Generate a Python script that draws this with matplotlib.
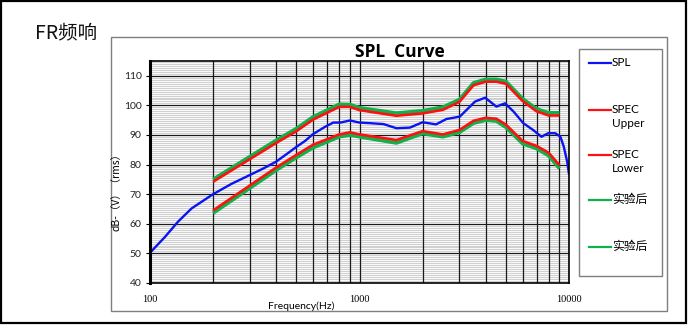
import matplotlib
matplotlib.use("Agg")
import matplotlib.pyplot as plt
from matplotlib.ticker import FixedLocator, MultipleLocator, NullFormatter
from matplotlib.patches import Rectangle

plt.rcParams['font.family'] = ['Lato', 'Noto Sans CJK SC', 'DejaVu Sans']

# ---- data ----
spl_freq = [100, 118, 136, 158, 200, 245, 300, 350, 400, 458, 500, 550, 600, 686, 750,
            810, 900, 1000, 1120, 1300, 1500, 1740, 2000, 2320, 2600, 3010, 3560, 3980,
            4500, 4950, 5440, 6050, 6740, 7390, 7950, 8600, 9100, 9440, 9800, 9990]
spl_db = [50.2, 55.6, 60.7, 65.2, 70.0, 73.5, 76.5, 78.8, 81.0, 84.0, 86.0, 88.0, 90.3, 92.8, 94.2,
          94.2, 94.9, 94.2, 94.0, 93.7, 92.3, 92.5, 94.3, 93.6, 95.4, 96.2, 101.3, 102.6,
          99.6, 100.7, 97.9, 94.0, 91.7, 89.4, 90.6, 90.6, 89.4, 86.1, 81.0, 77.0]

spec_freq = [200, 400, 500, 600, 800, 900, 1000, 1500, 2000, 2500, 3000, 3500, 4000,
             4500, 5000, 6000, 7000, 8000, 9000]
upper_db = [74.2, 87.3, 91.3, 95.2, 99.5, 99.5, 98.4, 96.5, 97.3, 98.5, 101.2, 106.8, 108.0,
            108.0, 107.3, 101.5, 98.0, 96.6, 96.6]
lower_db = [64.5, 79.0, 83.3, 86.7, 90.2, 90.9, 90.2, 88.3, 91.3, 90.2, 91.7, 94.8, 95.8,
            95.5, 93.5, 88.0, 86.3, 84.0, 79.8]
after_upper_db = [75.0, 88.2, 92.2, 96.1, 100.4, 100.3, 99.2, 97.4, 98.2, 99.4, 102.0, 107.6, 108.8,
                  108.8, 108.1, 102.3, 98.8, 97.5, 97.5]
after_lower_db = [63.6, 78.1, 82.4, 85.7, 89.4, 90.0, 89.4, 87.3, 90.5, 89.4, 90.9, 94.0, 95.0,
                  94.7, 92.6, 87.1, 85.4, 83.0, 78.7]

legend_labels = ['SPL', 'SPEC\nUpper', 'SPEC\nLower', '实验后', '实验后']
x_ticks = [100, 1000, 10000]
y_ticks = [40, 50, 60, 70, 80, 90, 100, 110]

BLUE = '#0a14f0'
RED = '#ff1010'
GREEN = '#12b04a'

W, H = 688, 325
fig = plt.figure(figsize=(W / 100, H / 100), dpi=100)
fig.patch.set_facecolor('white')

# overlay in pixel coordinates
ov = fig.add_axes([0, 0, 1, 1], zorder=0)
ov.set_xlim(0, W)
ov.set_ylim(H, 0)
ov.axis('off')
ov.add_patch(Rectangle((1, 1), W - 3, H - 3, fill=False, ec='black', lw=1.6))
ov.add_patch(Rectangle((111, 37), 556, 274, fill=False, ec='#7f7f7f', lw=1.0))
ov.text(35, 33, 'FR频响', fontsize=14, va='center', ha='left',
        family=['Noto Sans CJK SC', 'DejaVu Sans'], color='#111111')

# main axes
l, r, t, b = 150, 569, 61, 283
ax = fig.add_axes([l / W, (H - b) / H, (r - l) / W, (b - t) / H], zorder=2)
ax.set_xscale('log')
ax.set_xlim(100, 10000)
ax.set_ylim(40, 115)

ax.set_xticks(x_ticks)
ax.set_xticklabels([str(v) for v in x_ticks], family=['Liberation Serif'], fontsize=7.5)
ax.xaxis.set_minor_locator(FixedLocator([m * d for d in (100, 1000) for m in range(2, 10)]))
ax.xaxis.set_minor_formatter(NullFormatter())
ax.set_yticks(y_ticks)
ax.set_yticklabels([str(v) for v in y_ticks], fontsize=7.5, color='#222222')
ax.yaxis.set_minor_locator(MultipleLocator(10 / 15))

ax.grid(which='major', axis='both', color='#1a1a1a', lw=0.9)
ax.grid(which='minor', axis='x', color='#1a1a1a', lw=0.9)
ax.grid(which='minor', axis='y', color='#d0d0d0', lw=0.8)
ax.tick_params(axis='y', which='major', length=3, width=0.8, pad=3)
ax.tick_params(axis='x', which='major', length=0, pad=9)
ax.tick_params(which='minor', length=0)
ax.set_axisbelow(False)
ax.yaxis.set_zorder(1.0)
ax.xaxis.set_zorder(1.5)
for s in ax.spines.values():
    s.set_color('black')
    s.set_linewidth(1.2)
    s.set_zorder(6)
ax.spines['left'].set_linewidth(2.2)

ax.plot(spec_freq, after_upper_db, color=GREEN, lw=2.6, zorder=3, solid_capstyle='butt')
ax.plot(spec_freq, after_lower_db, color=GREEN, lw=2.6, zorder=3, solid_capstyle='butt')
ax.plot(spec_freq, upper_db, color=RED, lw=1.9, zorder=4, solid_capstyle='butt')
ax.plot(spec_freq, lower_db, color=RED, lw=1.9, zorder=4, solid_capstyle='butt')
ax.plot(spl_freq, spl_db, color=BLUE, lw=1.7, zorder=5)

ax.set_xlabel('Frequency(Hz)', fontsize=7.5, labelpad=-1)
ax.xaxis.set_label_coords(0.36, -0.085)
ax.set_ylabel('dB-（V）（rms）', fontsize=7.5, family=['Noto Sans CJK SC', 'DejaVu Sans'])
ax.yaxis.set_label_coords(-0.068, 0.42)

fig.text(400 / W, (H - 52) / H, 'SPL  Curve', fontsize=12.5, fontweight='bold',
         ha='center', va='center', family=['Open Sans', 'DejaVu Sans'])

# legend box (pixel overlay)
lg = fig.add_axes([0, 0, 1, 1], zorder=3)
lg.set_xlim(0, W)
lg.set_ylim(H, 0)
lg.axis('off')
lg.patch.set_alpha(0)
lg.add_patch(Rectangle((579, 49), 83, 227, fill=True, fc='white', ec='#7f7f7f', lw=1.0))
entry_y = [63, 110, 155, 200, 247]
entry_c = [BLUE, RED, RED, GREEN, GREEN]
for yy, cc, lab in zip(entry_y, entry_c, legend_labels):
    lg.plot([589, 611], [yy, yy], color=cc, lw=1.6)
    lg.text(612, yy - 6, lab, fontsize=8.5, va='top', ha='left', linespacing=1.3,
            family=['Lato', 'Noto Sans CJK SC', 'DejaVu Sans'])

fig.savefig('out.png', dpi=100)
